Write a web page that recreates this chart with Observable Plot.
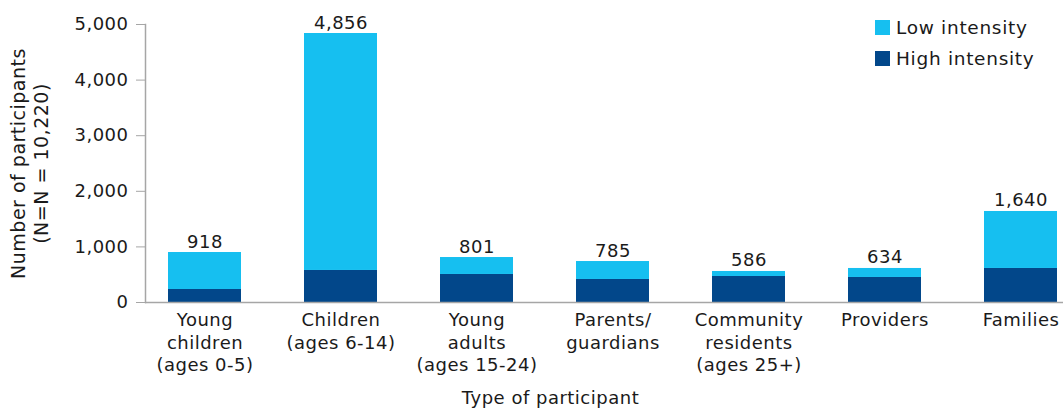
<!DOCTYPE html>
<html>
<head>
<meta charset="utf-8">
<script src="https://cdn.jsdelivr.net/npm/d3@7"></script>
<script src="https://cdn.jsdelivr.net/npm/@observablehq/plot@0.6"></script>
<style>
  html, body { margin: 0; padding: 0; background: #fff; overflow: hidden; }
  #wrap { position: relative; width: 1063px; height: 408px; font-family: "DejaVu Sans", sans-serif; }
  #legend { position: absolute; left: 875px; top: 12px; font-size: 18.5px; letter-spacing: 0.7px; color: #1a1a1a; }
  #legend .item { display: flex; align-items: center; height: 31px; }
  #legend .sw { width: 15px; height: 15px; margin-right: 6px; }
</style>
</head>
<body>
<div id="wrap"><div id="legend"></div></div>
<script>
const categories = ["Young children", "Children", "Young adults", "Parents/guardians", "Community residents", "Providers", "Families"];
const tickLabels = ["Young\nchildren\n(ages 0-5)", "Children\n(ages 6-14)", "Young\nadults\n(ages 15-24)", "Parents/\nguardians", "Community\nresidents\n(ages 25+)", "Providers", "Families"];
const highIntensity = [234, 576, 504, 414, 468, 450, 612];
const lowIntensity = [665, 4262, 305, 323, 90, 162, 1025];
const totalLabels = ["918", "4,856", "801", "785", "586", "634", "1,640"];
const seriesNames = ["Low intensity", "High intensity"];
const seriesColors = ["#16bff0", "#02478a"];
const yTicks = [0, 1000, 2000, 3000, 4000, 5000];

const rows = [];
categories.forEach((c, i) => {
  rows.push({cat: c, series: "High intensity", value: highIntensity[i]});
  rows.push({cat: c, series: "Low intensity", value: lowIntensity[i]});
});
const totals = categories.map((c, i) => ({cat: c, total: highIntensity[i] + lowIntensity[i], label: totalLabels[i]}));
const labelOf = new Map(categories.map((c, i) => [c, tickLabels[i]]));

const font = "DejaVu Sans, sans-serif";
const fs = 18;
const chart = Plot.plot({
  width: 1063,
  height: 408,
  marginLeft: 145,
  marginRight: 0,
  marginTop: 24,
  marginBottom: 106,
  style: {fontFamily: font, fontSize: "18px", letterSpacing: "0.5px", color: "#1a1a1a", background: "#fff"},
  x: {domain: categories, range: [136.5, 1088.5], paddingInner: 0.463, paddingOuter: 0.2315, axis: null},
  y: {domain: [0, 5000], axis: null},
  color: {domain: seriesNames, range: seriesColors},
  marks: [
    Plot.barY(rows, {x: "cat", y: "value", fill: "series", order: ["High intensity", "Low intensity"]}),
    Plot.ruleY([0], {stroke: "#a6a6a6", strokeWidth: 1.5}),
    Plot.frame({anchor: "left", stroke: "#a6a6a6", strokeWidth: 1.5}),
    Plot.axisY({ticks: yTicks, tickFormat: d3.format(","), tickSize: 9, tickPadding: 8, stroke: "#a6a6a6", fill: "#1a1a1a", fontSize: fs, label: null}),
    Plot.axisX({tickSize: 0, tickPadding: 8, tickFormat: d => labelOf.get(d), lineHeight: 1.25, fontSize: fs, fill: "#1a1a1a", label: null}),
    Plot.text(totals, {x: "cat", y: "total", text: "label", lineAnchor: "bottom", dy: -5, fontSize: fs, fill: "#1a1a1a"}),
    Plot.text(["Number of participants\n(N=N = 10,220)"], {frameAnchor: "left", textAnchor: "middle", lineAnchor: "middle", rotate: -90, dx: -116, lineHeight: 1.18, fontSize: 19, fill: "#1a1a1a"}),
    Plot.text(["Type of participant"], {frameAnchor: "bottom", textAnchor: "middle", dx: -54, dy: 101, fontSize: fs, fill: "#1a1a1a"})
  ]
});
document.getElementById("wrap").prepend(chart);

const legend = document.getElementById("legend");
seriesNames.forEach((s, i) => {
  const item = document.createElement("div");
  item.className = "item";
  const sw = document.createElement("div");
  sw.className = "sw";
  sw.style.background = seriesColors[i];
  const t = document.createElement("span");
  t.textContent = s;
  item.appendChild(sw);
  item.appendChild(t);
  legend.appendChild(item);
});
</script>
</body>
</html>
